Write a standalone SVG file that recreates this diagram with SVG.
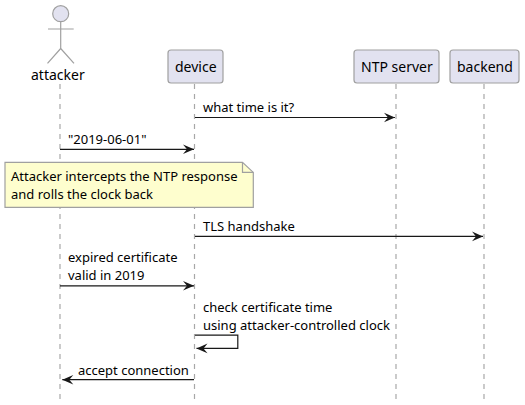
<svg xmlns="http://www.w3.org/2000/svg" width="525" height="405" viewBox="0 0 525 405">
<defs>
<marker id="a" markerUnits="userSpaceOnUse" markerWidth="13" markerHeight="12" refX="11.500" refY="6" orient="auto"><path d="M0.500,1.200 L11.500,6 L0.500,10.800 L4.500,6 Z" fill="#181818"/></marker>
</defs>
<style>
text{font-family:"Noto Sans",sans-serif;font-size:13px;fill:#000}
.t{font-size:14px}
.l{stroke:#181818;stroke-width:1.200;fill:none;marker-end:url(#a)}
.life{stroke:#a8a8a8;stroke-width:1.200;stroke-dasharray:5 5;fill:none}
.box{fill:#e2e2f0;stroke:#a0a0a0;stroke-width:1.200}
.s{fill:none;stroke:#a0a0a0;stroke-width:1.200}
</style>
<rect width="525" height="405" fill="#fff"/>
<g id="lifelines">
<path class="life" d="M60,84V400"/><path class="life" d="M194.500,84V400"/><path class="life" d="M396,84V400"/><path class="life" d="M484,84V400"/>
</g>
<g id="attacker">
<circle cx="60.700" cy="13.700" r="8" class="box"/>
<path class="s" d="M60.700,21.700V48.500M48,29H73.700M60.700,48.500L47.500,63.300M60.700,48.500L74,63.300"/>
<text class="t" x="31" y="80">attacker</text>
</g>
<g id="device"><rect class="box" x="168" y="50" width="55" height="33" rx="3"/><text class="t" x="175" y="72">device</text></g>
<g id="ntp"><rect class="box" x="354" y="50" width="85" height="33" rx="3"/><text class="t" x="361" y="72">NTP server</text></g>
<g id="backend"><rect class="box" x="450" y="50" width="69" height="33" rx="3"/><text class="t" x="457" y="72">backend</text></g>
<g id="connectors">
<path class="l" d="M195,117.500H395"/>
<path class="l" d="M60,149.300H194"/>
<path class="l" d="M195,236.400H483"/>
<path class="l" d="M60,285.800H194"/>
<path class="l" d="M195,335.200H237.800V348.400H196.500"/>
<path class="l" d="M194,379.700H62.300"/>
</g>
<g id="labels">
<text x="203" y="112">what time is it?</text>
<text x="68" y="144">"2019-06-01"</text>
<text x="203" y="231">TLS handshake</text>
<text x="68" y="262">expired certificate</text>
<text x="68" y="280">valid in 2019</text>
<text x="203" y="312">check certificate time</text>
<text x="203" y="330">using attacker-controlled clock</text>
<text x="78" y="375">accept connection</text>
</g>
<g id="note">
<path d="M5,162.400H242.500L253.300,172.400V207.300H5Z" fill="#fefece" stroke="#a0a0a0" stroke-width="1.200"/>
<path class="s" d="M242.500,162.400V172.400H253.300"/>
<text x="11" y="181">Attacker intercepts the NTP response</text>
<text x="11" y="199">and rolls the clock back</text>
</g>
</svg>
